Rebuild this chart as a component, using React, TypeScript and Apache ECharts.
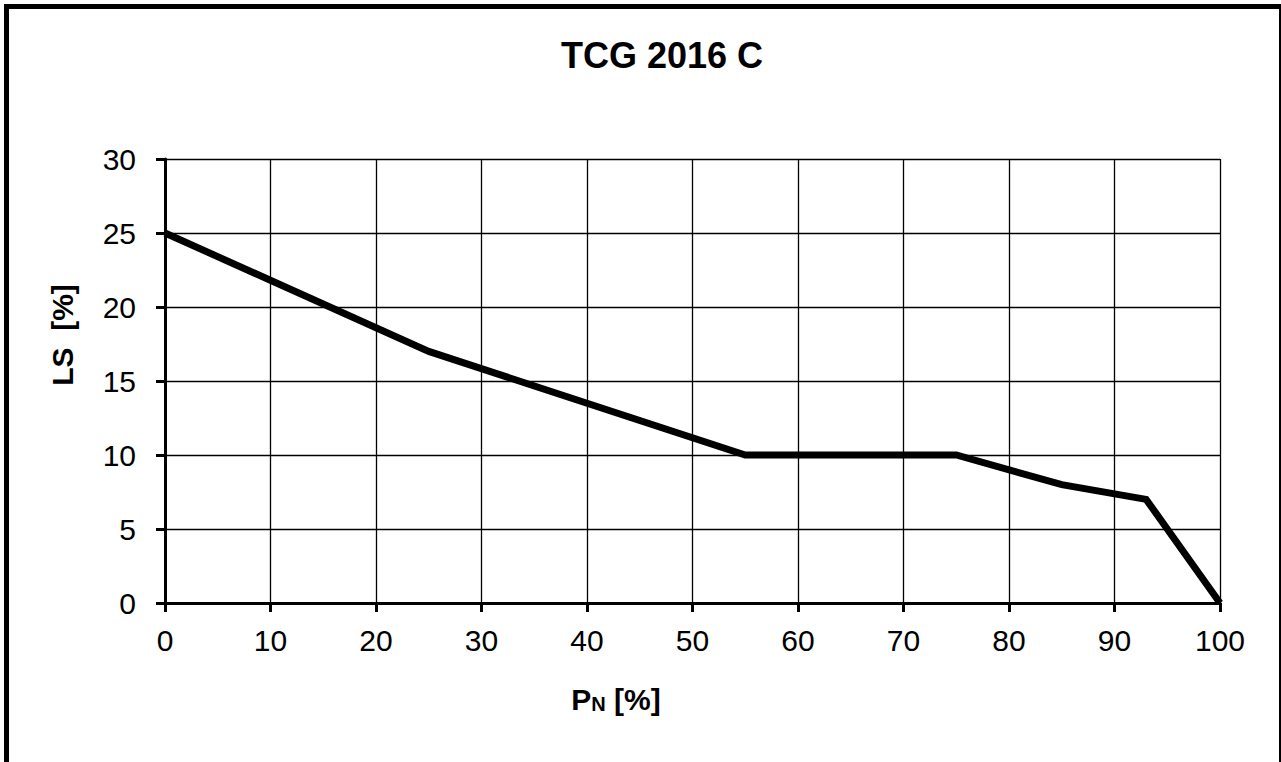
import React, { useEffect, useRef } from "react";
import * as echarts from "echarts";

const pnValues = [0, 25, 55, 75, 85, 93, 100];
const lsValues = [25, 17, 10, 10, 8, 7, 0];
const titleText = "TCG 2016 C";
const yAxisLabel = "LS  [%]";

const FONT = "'Liberation Sans', Arial, sans-serif";

export default function App() {
  const ref = useRef<HTMLDivElement>(null);
  useEffect(() => {
    if (!ref.current) return;
    const chart = echarts.init(ref.current, null, { renderer: "svg" });
    const data = pnValues.map((x, i) => [x, lsValues[i]]);
    chart.setOption({
      animation: false,
      backgroundColor: "#ffffff",
      grid: { left: 165, right: 61, top: 159, bottom: 159, containLabel: false },
      xAxis: {
        type: "value",
        min: 0,
        max: 100,
        interval: 10,
        axisLine: { show: true, onZero: false, lineStyle: { color: "#000", width: 3 } },
        axisTick: { show: true, length: 9, lineStyle: { color: "#000", width: 3 } },
        axisLabel: { color: "#000", fontSize: 30, fontFamily: FONT, margin: 22 },
        splitLine: { show: true, lineStyle: { color: "#000", width: 1.3 } },
      },
      yAxis: {
        type: "value",
        min: 0,
        max: 30,
        interval: 5,
        axisLine: { show: true, onZero: false, lineStyle: { color: "#000", width: 3 } },
        axisTick: { show: true, length: 9, lineStyle: { color: "#000", width: 3 } },
        axisLabel: { color: "#000", fontSize: 30, fontFamily: FONT, margin: 29 },
        splitLine: { show: true, lineStyle: { color: "#000", width: 1.3 } },
      },
      series: [
        {
          type: "line",
          data,
          symbol: "none",
          lineStyle: { color: "#000", width: 7, join: "miter" },
          z: 5,
        },
      ],
      graphic: [
        {
          type: "rect",
          shape: { x: 6.5, y: 6.5, width: 1275, height: 800 },
          style: { fill: "none", stroke: "#000", lineWidth: 5 },
          silent: true,
        },
        {
          type: "text",
          x: 662,
          y: 55,
          style: {
            text: titleText,
            font: `bold 36px ${FONT}`,
            fill: "#000",
            textAlign: "center",
            textVerticalAlign: "middle",
          },
        },
        {
          type: "text",
          x: 62,
          y: 335,
          rotation: Math.PI / 2,
          style: {
            text: yAxisLabel,
            font: `bold 30px ${FONT}`,
            fill: "#000",
            textAlign: "center",
            textVerticalAlign: "middle",
          },
        },
        {
          type: "text",
          x: 616,
          y: 697,
          style: {
            text: "{a|P}{b|N}{a| [%]}",
            fill: "#000",
            textAlign: "center",
            textVerticalAlign: "middle",
            rich: {
              a: { fontSize: 30, fontWeight: "bold", fontFamily: FONT, fill: "#000", verticalAlign: "bottom" },
              b: { fontSize: 20, fontWeight: "bold", fontFamily: FONT, fill: "#000", verticalAlign: "bottom", padding: [14, 0, 0, 0] },
            },
          },
        },
      ],
    });
    return () => chart.dispose();
  }, []);
  return (
    <div
      ref={ref}
      style={{ position: "fixed", left: 0, top: 0, width: 1281, height: 762 }}
    />
  );
}
